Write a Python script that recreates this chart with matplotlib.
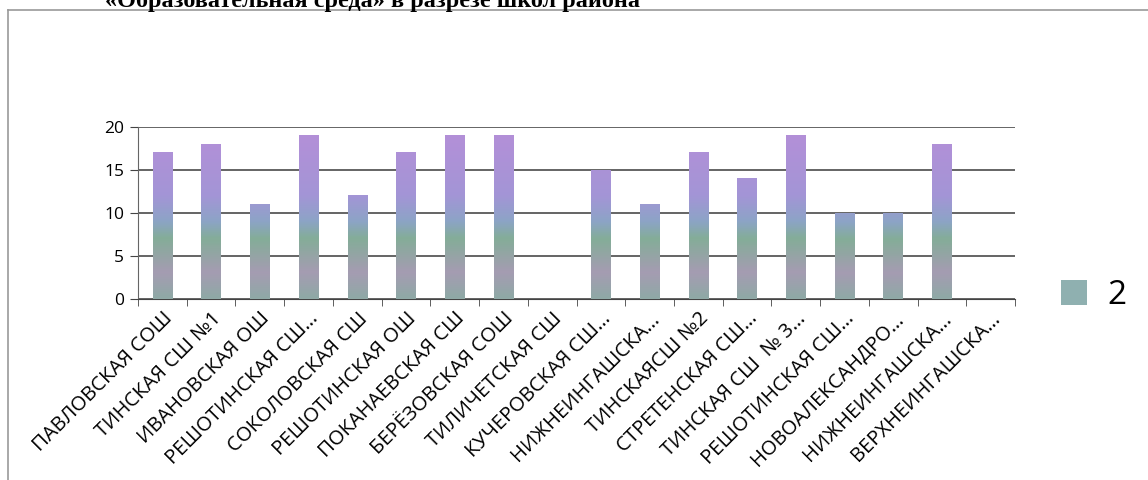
import numpy as np
import matplotlib.pyplot as plt
from matplotlib.colors import LinearSegmentedColormap
from matplotlib.patches import Rectangle
from matplotlib.lines import Line2D

# данные
schools = [
    "ПАВЛОВСКАЯ СОШ", "ТИНСКАЯ СШ №1", "ИВАНОВСКАЯ ОШ", "РЕШОТИНСКАЯ СШ…",
    "СОКОЛОВСКАЯ СШ", "РЕШОТИНСКАЯ ОШ", "ПОКАНАЕВСКАЯ СШ", "БЕРЁЗОВСКАЯ СОШ",
    "ТИЛИЧЕТСКАЯ СШ", "КУЧЕРОВСКАЯ СШ…", "НИЖНЕИНГАШСКА…", "ТИНСКАЯСШ №2",
    "СТРЕТЕНСКАЯ СШ…", "ТИНСКАЯ СШ  № 3…", "РЕШОТИНСКАЯ СШ…", "НОВОАЛЕКСАНДРО…",
    "НИЖНЕИНГАШСКА…", "ВЕРХНЕИНГАШСКА…",
]
values = [17, 18, 11, 19, 12, 17, 19, 19, 0, 15, 11, 17, 14, 19, 10, 10, 18, 0]
series_name = "2"
title = "«Образовательная среда» в разрезе школ района"

plt.rcParams['font.family'] = ['Open Sans', 'DejaVu Sans']

fig = plt.figure(figsize=(11.48, 4.8), dpi=100)
ax = fig.add_axes([138 / 1148, 1 - 299 / 480, 877 / 1148, 172 / 480])

# градиент столбцов (зелёный снизу, фиолетовый сверху)
grad = LinearSegmentedColormap.from_list("bars", [
    (0.00, "#8fa9a6"), (0.15, "#a59cb2"), (0.35, "#84ad98"),
    (0.45, "#8ca4c6"), (0.60, "#a395d6"), (1.00, "#b58fd8"),
])

x = np.arange(len(schools))
width = 0.4
bars = ax.bar(x, values, width=width, color="none", zorder=3)
for b, v in zip(bars, values):
    if v <= 0:
        continue
    col = np.linspace(0, v / 20, 64).reshape(-1, 1)
    ax.imshow(col, cmap=grad, vmin=0, vmax=1, origin="lower", aspect="auto",
              extent=(b.get_x(), b.get_x() + width, 0, v), zorder=3,
              interpolation="bilinear")

ax.set_xlim(-0.5, len(schools) - 0.5)
ax.set_ylim(0, 20)
ax.set_yticks([0, 5, 10, 15, 20])
ax.grid(axis="y", color="#3a3a3a", lw=1.1, zorder=1)
ax.set_axisbelow(True)

for s in ["top", "right"]:
    ax.spines[s].set_visible(False)
ax.spines["left"].set_color("#666666")
ax.spines["bottom"].set_color("#444444")

ax.set_xticks(x)
ax.set_xticklabels(schools, rotation=45, ha="right", rotation_mode="anchor",
                   fontsize=14.5)
ax.tick_params(axis="x", which="major", length=0, pad=7)
ax.set_xticks(np.arange(-0.5, len(schools)), minor=True)
ax.tick_params(axis="x", which="minor", length=5, color="#444444")
ax.tick_params(axis="y", length=6, color="#444444", labelsize=12.5, pad=4)

# легенда
leg = ax.legend(handles=[Rectangle((0, 0), 1, 1, facecolor="#8fb0b0", edgecolor="none")],
                labels=[series_name], loc="center left",
                bbox_to_anchor=(1.018, 0.02), frameon=False, fontsize=24,
                handlelength=0.8, handleheight=0.8, handletextpad=0.6)

# рамка диаграммы
fig.add_artist(Line2D([8 / 1148, 8 / 1148], [0, 1 - 10 / 480], color="#999999",
                      lw=1.2, transform=fig.transFigure))
fig.add_artist(Line2D([8 / 1148, 1], [1 - 10 / 480, 1 - 10 / 480], color="#999999",
                      lw=1.2, transform=fig.transFigure))

# заголовок (обрезан сверху)
fig.text(105 / 1148, 1 - 7 / 480, title, fontsize=17.5, fontweight="bold",
         family=["Liberation Serif", "DejaVu Serif"], ha="left", va="baseline")

fig.savefig("out.png", dpi=100)
